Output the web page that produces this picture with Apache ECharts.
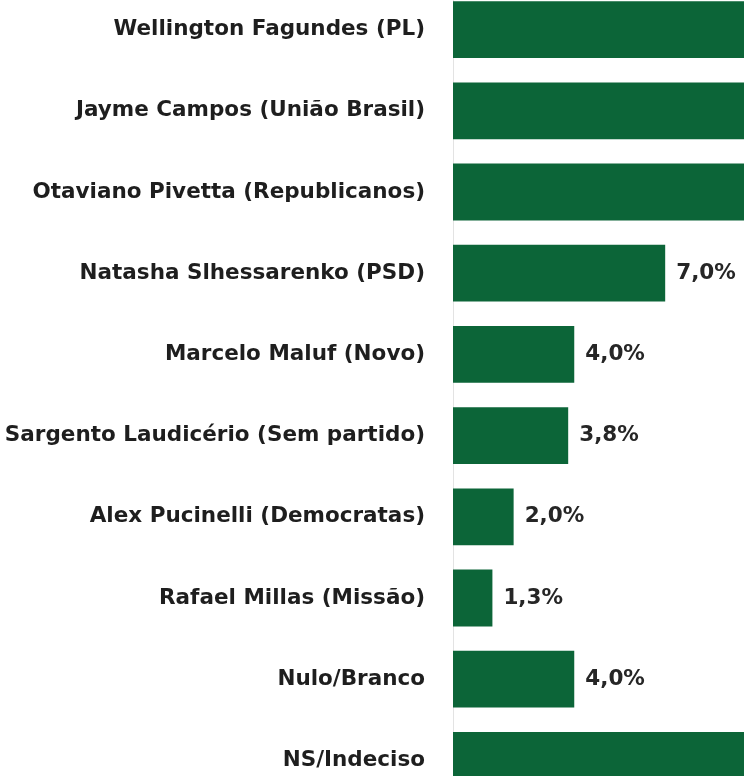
<!DOCTYPE html>
<html>
<head>
<meta charset="utf-8">
<script src="https://cdn.jsdelivr.net/npm/echarts@6/dist/echarts.min.js"></script>
<style>
html,body{margin:0;padding:0;background:#fff;overflow:hidden;width:744px;height:776px;}
#chart{position:absolute;left:0;top:-11px;width:744px;height:812px;}
</style>
</head>
<body>
<div id="chart"></div>
<script>
const categories = [
  'Wellington Fagundes (PL)',
  'Jayme Campos (União Brasil)',
  'Otaviano Pivetta (Republicanos)',
  'Natasha Slhessarenko (PSD)',
  'Marcelo Maluf (Novo)',
  'Sargento Laudicério (Sem partido)',
  'Alex Pucinelli (Democratas)',
  'Rafael Millas (Missão)',
  'Nulo/Branco',
  'NS/Indeciso'
];
// Top three and last bars run past the picture's right edge; their values are estimated
const values = [30.0, 22.0, 16.0, 7.0, 4.0, 3.8, 2.0, 1.3, 4.0, 20.0];

const chart = echarts.init(document.getElementById('chart'), null, {renderer: 'canvas'});
const fontFam = '"DejaVu Sans", sans-serif';
chart.setOption({
  animation: false,
  backgroundColor: '#ffffff',
  grid: {left: 453, right: 0, top: 0, bottom: 0, containLabel: false},
  xAxis: {type: 'value', min: 0, max: 9.6, show: false},
  yAxis: {
    type: 'category',
    data: categories,
    inverse: true,
    axisTick: {show: false},
    axisLine: {show: true, lineStyle: {color: '#e3e3e3', width: 1}},
    axisLabel: {
      margin: 28,
      fontSize: 21.5,
      fontWeight: 'bold',
      fontFamily: fontFam,
      color: '#1e1e1e'
    }
  },
  series: [{
    type: 'bar',
    data: values,
    barCategoryGap: '30%',
    itemStyle: {color: '#0c6538'},
    label: {
      show: true,
      position: 'right',
      distance: 11,
      fontSize: 21.5,
      fontWeight: 'bold',
      fontFamily: fontFam,
      color: '#262626',
      formatter: p => p.value.toFixed(1).replace('.', ',') + '%'
    }
  }]
});
</script>
</body>
</html>
